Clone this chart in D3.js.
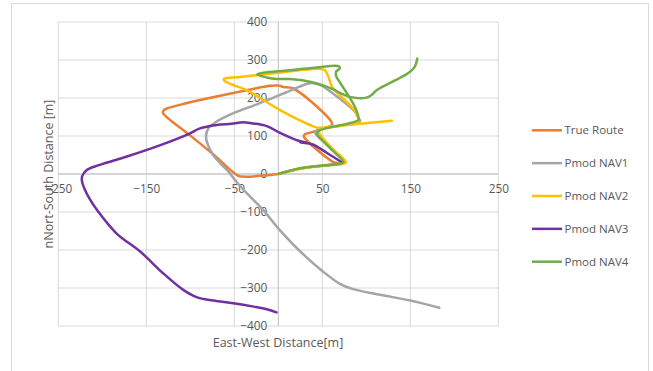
<!DOCTYPE html>
<html><head><meta charset="utf-8">
<script src="https://cdn.jsdelivr.net/npm/d3@7"></script>
<style>
html,body{margin:0;padding:0;background:#fff;}
svg{display:block;font-family:"Open Sans","Liberation Sans",sans-serif;}
</style></head>
<body><svg id="c" width="653" height="371"></svg>
<script>
const xTicks = [-250, -150, -50, 50, 150, 250];
const yTicks = [-400, -300, -200, -100, 0, 100, 200, 300, 400];
const seriesNames = ["True Route", "Pmod NAV1", "Pmod NAV2", "Pmod NAV3", "Pmod NAV4"];
const seriesColors = ["#ED7D31", "#A5A5A5", "#FFC000", "#7030A0", "#70AD47"];

const trueRoute = [[0,0],[-13,-3],[-38,-7],[-46,-4],[-74,52],[-102,105],[-131,161],[-130,168],[-126,173],[-112,182],[-43,217],[-9,232],[0,233],[6,229],[17,225],[59,142],[61,130],[50,118],[40,111],[30,104],[29,99],[62,32],[68,28],[49,22],[25,15],[0,0]];
const nav1 = [[0,0],[25,14],[49,21],[72,28],[75,33],[58,72],[42,108],[45,117],[70,127],[90,134],[93,140],[91,148],[87,164],[59,217],[48,234],[40,239],[34,238],[2,208],[-26,182],[-51,160],[-70,138],[-79,122],[-82,103],[-81,83],[-74,50],[-62,19],[-58,10],[-43,-33],[-17,-95],[0,-143],[25,-204],[51,-257],[70,-289],[85,-303],[116,-318],[150,-333],[183,-352]];
const nav2 = [[0,0],[25,14],[49,22],[74,27],[77,31],[60,70],[46,112],[50,118],[88,134],[91,140],[87,166],[61,230],[57,256],[53,273],[47,277],[20,272],[-26,260],[-44,255],[-62,250],[-61,245],[-51,234],[-36,221],[2,168],[36,129],[45,122],[60,125],[129,140]];
const nav3 = [[72,31],[55,56],[40,77],[35,80],[25,83],[33,82],[22,88],[2,108],[-13,126],[-32,134],[-40,136],[-53,132],[-70,129],[-89,120],[-102,105],[-134,76],[-172,46],[-203,24],[-218,10],[-223,-7],[-223,-20],[-220,-40],[-214,-67],[-206,-95],[-184,-156],[-157,-204],[-131,-261],[-108,-305],[-93,-324],[-74,-333],[-51,-340],[-28,-349],[-13,-356],[-2,-364]];
const nav4 = [[0,0],[25,15],[49,22],[70,27],[74,31],[58,70],[44,107],[46,114],[91,142],[91,150],[87,177],[72,234],[66,256],[65.6,269],[70,278],[69,283],[64,285],[59,284],[36,278],[-24,262],[-13,254],[-2,250],[13,250],[36,243],[57,228],[81.5,203],[100,201],[106,208],[112,221],[127,240],[146,263],[155,282],[158,304]];

const seriesData = [trueRoute, nav1, nav2, nav3, nav4];

const svg = d3.select("#c");
const x = d3.scaleLinear().domain([-250, 250]).range([58.3, 498.3]);
const y = d3.scaleLinear().domain([-400, 400]).range([326, 22]);

// outer border
svg.append("rect").attr("x", 11.5).attr("y", 3.5).attr("width", 637).attr("height", 380)
  .attr("fill", "none").attr("stroke", "#D9D9D9");

// gridlines
svg.append("g").selectAll("line").data(xTicks).join("line")
  .attr("x1", d => x(d)).attr("x2", d => x(d)).attr("y1", y(400)).attr("y2", y(-400))
  .attr("stroke", "#D9D9D9").attr("stroke-width", 1);
svg.append("g").selectAll("line").data(yTicks).join("line")
  .attr("x1", x(-250)).attr("x2", x(250)).attr("y1", d => y(d)).attr("y2", d => y(d))
  .attr("stroke", "#D9D9D9").attr("stroke-width", 1);

// axes lines at 0
svg.append("line").attr("x1", x(0)).attr("x2", x(0)).attr("y1", y(400)).attr("y2", y(-400)).attr("stroke", "#BFBFBF");
svg.append("line").attr("x1", x(-250)).attr("x2", x(250)).attr("y1", y(0)).attr("y2", y(0)).attr("stroke", "#BFBFBF");

// tick labels via d3 axes
const xAxis = svg.append("g").attr("transform", `translate(0,${y(0)})`)
  .call(d3.axisBottom(x).tickValues(xTicks).tickSize(0).tickPadding(11).tickFormat(d3.format("d")));
const yAxis = svg.append("g").attr("transform", `translate(${x(0)},0)`)
  .call(d3.axisLeft(y).tickValues(yTicks).tickSize(0).tickPadding(11).tickFormat(d3.format("d")));
[xAxis, yAxis].forEach(g => {
  g.select(".domain").remove();
  g.selectAll("text").attr("fill", "#595959").style("font-size", "11.8px").style("font-family", "'Open Sans', sans-serif");
});

// series
const line = d3.line().x(d => x(d[0])).y(d => y(d[1])).curve(d3.curveCatmullRom.alpha(0.5));
seriesData.forEach((s, i) => {
  svg.append("path").datum(s).attr("d", line).attr("fill", "none")
    .attr("stroke", seriesColors[i]).attr("stroke-width", 2.5)
    .attr("stroke-linejoin", "round").attr("stroke-linecap", "round");
});

// axis titles
svg.append("text").attr("x", 278).attr("y", 347).attr("text-anchor", "middle")
  .attr("fill", "#595959").style("font-size", "12.5px").text("East-West Distance[m]");
svg.append("text").attr("transform", "translate(53,174) rotate(-90)").attr("text-anchor", "middle")
  .attr("fill", "#595959").style("font-size", "12.5px").text("nNort-South Distance [m]");

// legend
const lg = svg.append("g");
seriesNames.forEach((n, i) => {
  const ly = 130.3 + i * 32.85;
  lg.append("line").attr("x1", 532).attr("x2", 562).attr("y1", ly).attr("y2", ly)
    .attr("stroke", seriesColors[i]).attr("stroke-width", 2.5);
  lg.append("text").attr("x", 564.5).attr("y", ly).attr("dy", "0.35em")
    .attr("fill", "#595959").style("font-size", "11.5px").text(n);
});
</script></body></html>
